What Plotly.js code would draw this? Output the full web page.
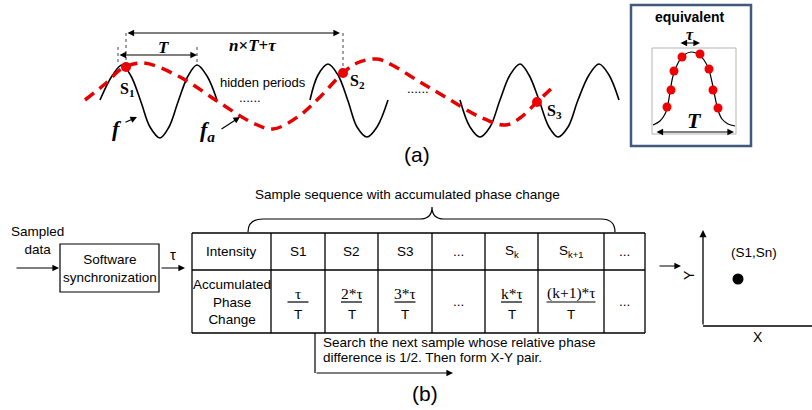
<!DOCTYPE html>
<html><head><meta charset="utf-8">
<script src="https://cdn.plot.ly/plotly-3.0.1.min.js"></script>
<style>html,body{margin:0;padding:0;background:#fff}#chart{width:812px;height:410px}</style>
</head><body><div id="chart"></div>
<script>
// ---------- values ----------
// carrier waveform f (three visible pieces)
const waveSeg1X = [100,112,122,131,141,150,160,169,178,188,197,207,217];
const waveSeg1Y = [100,76,65,76,102,127,138,127,102,76,65,76,100];
const waveSeg2X = [310,318,328,338,348,357,367,377,388];
const waveSeg2Y = [100,75,64,75,101,127,137,127,100];
const waveSeg3X = [460,470,480,490,500,510,520,529,539,549,558,568,578,589,599,609,619];
const waveSeg3Y = [100,127,137,127,100,75,64,75,100,127,137,127,100,75,64,75,100];
// aliased waveform f_a
const aliasX = [85,105,123,143,180,220,253,273,299,319,343,357,377,392,420,447,480,505,520,537,553];
const aliasY = [100,84,68,63,77,103,123,129,116,98,73,63,59,65,82,98,117,125,118,102,87];
// samples S1..S3
const sampleX = [126,343,537];
const sampleY = [67,73,102];
const sampleLabels = ['S<sub>1</sub>','S<sub>2</sub>','S<sub>3</sub>'];
const sampleLabelX = [127,357,554];
const sampleLabelY = [89,81,111];
// equivalent-time inset
const bellX = [653,660,665,668,670,673,678,684,691,698,704,709,712,715,718,722,728,735];
const bellY = [125,121,114,104,92,76,63,55,52,54,60,70,82,97,110,119,124,126];
const insetDotX = [667,671,674,682,700,709,713,718];
const insetDotY = [107,90,71,57,54,69,90,108];
// table (b)
const headerRow = ['Intensity','S1','S2','S3','...','S<sub>k</sub>','S<sub>k+1</sub>','...'];
const phaseNumerators = [null,'τ','2*τ','3*τ',null,'k*τ','(k+1)*τ',null];
const phasePlain = ['Accumulated<br>Phase<br>Change',null,null,null,'...',null,null,'...'];
const phaseDenominator = 'T';
// X-Y pair
const pairX = [738];
const pairY = [279];

// ---------- geometry ----------
const colEdges = [192,271,325,378,432,485,538,604,645];
const rowEdges = [233,270,333];

const SANS = 'Liberation Sans, Arial, sans-serif';
const SERIF = 'Liberation Serif, Times New Roman, serif';
const FB = 13.5;

const traces = [];
[[waveSeg1X,waveSeg1Y],[waveSeg2X,waveSeg2Y],[waveSeg3X,waveSeg3Y]].forEach(([x,y])=>{
  traces.push({x,y,mode:'lines',line:{color:'#000',width:1.6,shape:'spline',smoothing:1},hoverinfo:'skip'});
});
traces.push({x:aliasX,y:aliasY,mode:'lines',line:{color:'#e60000',width:3.5,dash:'11px,7px',shape:'spline',smoothing:1},hoverinfo:'skip'});
traces.push({x:sampleX,y:sampleY,mode:'markers',marker:{color:'#f00000',size:10},hoverinfo:'skip'});
traces.push({x:bellX,y:bellY,mode:'lines',line:{color:'#000',width:1.2,shape:'spline',smoothing:1},hoverinfo:'skip'});
traces.push({x:insetDotX,y:insetDotY,mode:'markers',marker:{color:'#f00000',size:9},hoverinfo:'skip'});
traces.push({x:pairX,y:pairY,mode:'markers',marker:{color:'#000',size:11},hoverinfo:'skip'});

const shapes = [];
const line = (x0,y0,x1,y1,opt={}) => shapes.push({type:'line',xref:'x',yref:'y',x0,y0,x1,y1,line:{color:opt.color||'#000',width:opt.width||1.2,dash:opt.dash||'solid'}});
// dotted guides
line(126,33,126,66,{dash:'dot',width:1,color:'#444'});
line(343,33,343,71,{dash:'dot',width:1,color:'#444'});
line(118,47,118,64,{dash:'dot',width:1,color:'#444'});
line(197,47,197,64,{dash:'dot',width:1,color:'#444'});
// inset boxes
shapes.push({type:'rect',xref:'x',yref:'y',x0:631,y0:5,x1:751,y1:146,line:{color:'#3f5a7c',width:2.5}});
shapes.push({type:'rect',xref:'x',yref:'y',x0:652,y0:48,x1:736,y1:134,line:{color:'#b4b4b4',width:1}});
// brace
shapes.push({type:'path',xref:'x',yref:'y',path:'M248,232 Q248,219 263,219 L420,219 Q432,219 432,207 Q432,219 444,219 L601,219 Q615,219 615,232',line:{color:'#000',width:1.2}});
// table grid
rowEdges.forEach(y=>line(colEdges[0],y,colEdges[colEdges.length-1],y,{width:1.3}));
colEdges.forEach(x=>line(x,rowEdges[0],x,rowEdges[rowEdges.length-1],{width:1.3}));
// software sync box
shapes.push({type:'rect',xref:'x',yref:'y',x0:60,y0:244,x1:159,y1:292,line:{color:'#000',width:1.2}});
// search bracket
line(315,333,315,373,{width:1.2});
// xy axis horizontal
line(703,326,812,326,{width:1.3});

const ann = [];
const txt = (x,y,text,size,opt={}) => ann.push(Object.assign({x,y,xref:'x',yref:'y',text,showarrow:false,
  font:{family:opt.family||SANS,size,color:'#000'},xanchor:opt.xanchor||'center',yanchor:'middle',align:opt.align||'center'},opt.extra||{}));
const arrow = (x0,y0,x1,y1,both,w) => ann.push({x:x1,y:y1,ax:x0,ay:y0,xref:'x',yref:'y',axref:'x',ayref:'y',text:'',
  showarrow:true,arrowhead:2,arrowsize:1.1,arrowwidth:w||1.2,arrowcolor:'#000',standoff:0,startstandoff:0,arrowside:both?'end+start':'end'});

// part (a)
arrow(126,33,340,33,true);
txt(252,45,'<b><i>n</i>×<i>T</i>+<i>τ</i></b>',17,{family:SERIF});
arrow(118,55,197,55,true);
txt(163,47,'<b><i>T</i></b>',17,{family:SERIF});
txt(263,82,'hidden periods',13);
txt(250,97,'......',13);
txt(418,88,'......',13);
sampleLabels.forEach((s,i)=>txt(sampleLabelX[i],sampleLabelY[i],'<b>'+s+'</b>',16,{family:SERIF}));
txt(117,128,'<b><i>f</i></b>',22,{family:SERIF});
arrow(124,123,137,117,false);
txt(207,131,'<b><i>f<sub>a</sub></i></b>',22,{family:SERIF});
arrow(220,130,240,117,false);
txt(417,154,'(a)',21);
txt(690,17,'<b>equivalent</b>',14);
arrow(679,43,700,43,true);
txt(690,34,'<b><i>τ</i></b>',16,{family:SERIF});
arrow(655,132,734,132,true);
txt(694,120,'<b><i>T</i></b>',22,{family:SERIF});

// part (b)
txt(407,194,'Sample sequence with accumulated phase change',FB);
txt(37,240,'Sampled<br>data',FB);
arrow(15,268,59,268,false);
txt(109.5,268,'Software<br>synchronization',FB);
arrow(160,268,185,268,false);
txt(173,254,'τ',15);
const colCenter = i => (colEdges[i]+colEdges[i+1])/2;
const r1 = (rowEdges[0]+rowEdges[1])/2, r2 = (rowEdges[1]+rowEdges[2])/2;
headerRow.forEach((s,i)=>txt(colCenter(i),r1,s,FB));
phasePlain.forEach((s,i)=>{ if(s) txt(colCenter(i),r2,s,FB); });
phaseNumerators.forEach((s,i)=>{
  if(!s) return;
  const c = colCenter(i);
  txt(c,293,s,15.5,{family:SERIF});
  const w = Math.max(21, 7*s.length);
  line(c-w/2,302,c+w/2,302,{width:1.2});
  txt(c,314,phaseDenominator,FB);
});
txt(321,342,'Search the next sample whose relative phase',FB,{xanchor:'left',align:'left'});
txt(321,357,'difference is 1/2. Then form X-Y pair.',FB,{xanchor:'left',align:'left'});
arrow(315,373,453,373,false);
txt(425,393,'(b)',21);
arrow(658,266,681,266,false);
txt(689,275,'Y',14,{extra:{textangle:-90}});
arrow(703,326,703,230,false,1.3);
txt(758,337,'X',14);
txt(754,252,'(S1,Sn)',FB);

const layout = {
  width:812,height:410,margin:{l:0,r:0,t:0,b:0},
  paper_bgcolor:'#fff',plot_bgcolor:'#fff',showlegend:false,
  xaxis:{range:[0,812],visible:false,fixedrange:true},
  yaxis:{range:[410,0],visible:false,fixedrange:true},
  shapes,annotations:ann,font:{family:SANS}
};
Plotly.newPlot('chart',traces,layout,{displayModeBar:false,staticPlot:true});
</script></body></html>
